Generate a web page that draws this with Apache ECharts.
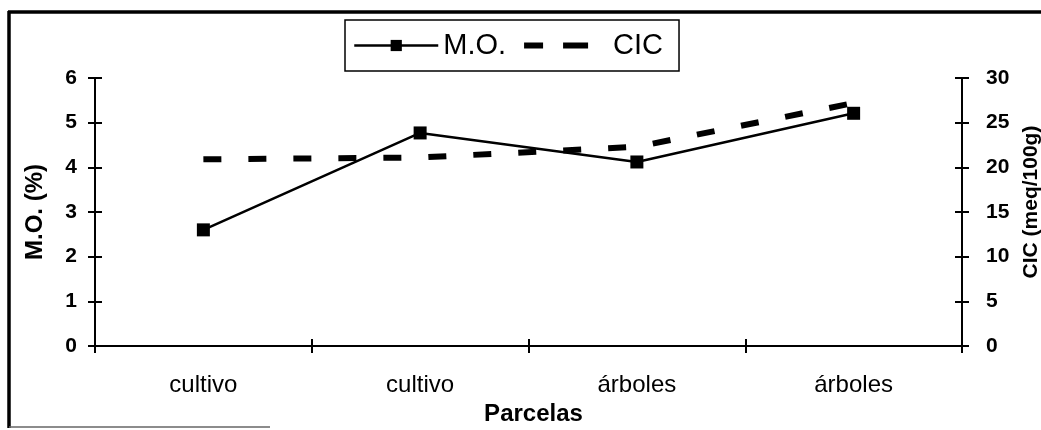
<!DOCTYPE html>
<html>
<head>
<meta charset="utf-8">
<script src="https://cdn.jsdelivr.net/npm/echarts@6/dist/echarts.min.js"></script>
<style>
  html, body { margin: 0; padding: 0; background: #fff; }
  #chart { width: 1041px; height: 430px; }
</style>
</head>
<body>
<div id="chart"></div>
<script>
// datos
const parcelas = ['cultivo', 'cultivo', 'árboles', 'árboles'];
const materiaOrganica = [2.6, 4.77, 4.12, 5.21];
const cic = [20.9, 21.1, 22.3, 27.2];

const font = 'Liberation Sans, Arial, sans-serif';
const chart = echarts.init(document.getElementById('chart'));

const tickLine = { color: '#000', width: 2 };
const axisLine = { show: true, lineStyle: { color: '#000', width: 2 } };
const valueLabel = { margin: 18, fontFamily: font, fontSize: 21, fontWeight: 'bold', color: '#000' };
const axisName = { fontFamily: font, fontSize: 22, fontWeight: 'bold', color: '#000' };

chart.setOption({
  animation: false,
  backgroundColor: '#fff',
  // marco escaneado: arriba e izquierda completos, abajo solo un trozo
  graphic: [{
    type: 'line',
    shape: { x1: 8, y1: 12, x2: 1041, y2: 12 },
    style: { stroke: '#000', lineWidth: 3.5 }
  }, {
    type: 'line',
    shape: { x1: 9, y1: 11, x2: 9, y2: 428 },
    style: { stroke: '#000', lineWidth: 3.5 }
  }, {
    type: 'line',
    shape: { x1: 9, y1: 427, x2: 270, y2: 427 },
    style: { stroke: '#666', lineWidth: 1.5 }
  }],
  legend: {
    left: 345,
    top: 20,
    padding: [11, 16, 11, 8],
    borderColor: '#000',
    borderWidth: 1.5,
    itemGap: 15,
    itemWidth: 84,
    itemHeight: 14,
    textStyle: { fontFamily: font, fontSize: 29, color: '#000' },
    data: [
      { name: 'M.O.', lineStyle: { color: '#000', width: 2.5 } },
      {
        name: 'CIC',
        itemStyle: { color: 'transparent', borderColor: 'transparent' },
        lineStyle: { color: '#000', width: 6, type: [19, 20, 25, 20] }
      }
    ]
  },
  grid: { left: 95, right: 79, top: 78, bottom: 84, outerBoundsMode: 'none' },
  xAxis: [{
    type: 'category',
    data: parcelas,
    name: 'Parcelas',
    nameLocation: 'middle',
    nameGap: 54,
    nameTextStyle: Object.assign({}, axisName, { fontSize: 24, padding: [0, 0, 0, 10] }),
    axisLine: axisLine,
    axisTick: { show: true, length: 7, lineStyle: tickLine },
    axisLabel: { margin: 27, fontFamily: font, fontSize: 24, color: '#000' },
    splitLine: { show: false }
  }, {
    type: 'category',
    data: parcelas,
    position: 'bottom',
    axisLine: { show: false },
    axisTick: { show: true, inside: true, length: 7, lineStyle: tickLine },
    axisLabel: { show: false },
    splitLine: { show: false }
  }],
  yAxis: [{
    type: 'value',
    min: 0, max: 6, interval: 1,
    position: 'left',
    name: 'M.O. (%)',
    nameLocation: 'middle',
    nameGap: 48,
    nameRotate: 90,
    nameTextStyle: Object.assign({}, axisName, { fontSize: 24 }),
    axisLine: axisLine,
    axisTick: { show: true, length: 7, lineStyle: tickLine },
    axisLabel: valueLabel,
    splitLine: { show: false }
  }, {
    type: 'value',
    min: 0, max: 30, interval: 5,
    position: 'right',
    name: 'CIC (meq/100g)',
    nameLocation: 'middle',
    nameGap: 54,
    nameRotate: 90,
    nameTextStyle: Object.assign({}, axisName, { fontSize: 21, padding: [0, 0, 0, 20] }),
    axisLine: axisLine,
    axisTick: { show: true, length: 7, lineStyle: tickLine },
    axisLabel: Object.assign({}, valueLabel, { margin: 24 }),
    splitLine: { show: false }
  }, {
    type: 'value',
    min: 0, max: 6, interval: 1,
    position: 'left',
    axisLine: { show: false },
    axisTick: { show: true, inside: true, length: 7, lineStyle: tickLine },
    axisLabel: { show: false },
    splitLine: { show: false }
  }, {
    type: 'value',
    min: 0, max: 30, interval: 5,
    position: 'right',
    axisLine: { show: false },
    axisTick: { show: true, inside: true, length: 7, lineStyle: tickLine },
    axisLabel: { show: false },
    splitLine: { show: false }
  }],
  series: [{
    name: 'M.O.',
    type: 'line',
    yAxisIndex: 0,
    data: materiaOrganica,
    symbol: 'rect',
    symbolSize: 13,
    lineStyle: { color: '#000', width: 2.5 },
    itemStyle: { color: '#000' },
    z: 3
  }, {
    name: 'CIC',
    type: 'line',
    yAxisIndex: 1,
    data: cic,
    symbol: 'none',
    lineStyle: { color: '#000', width: 6, type: [18, 27] },
    itemStyle: { color: '#000' },
    z: 2
  }]
});
</script>
</body>
</html>
